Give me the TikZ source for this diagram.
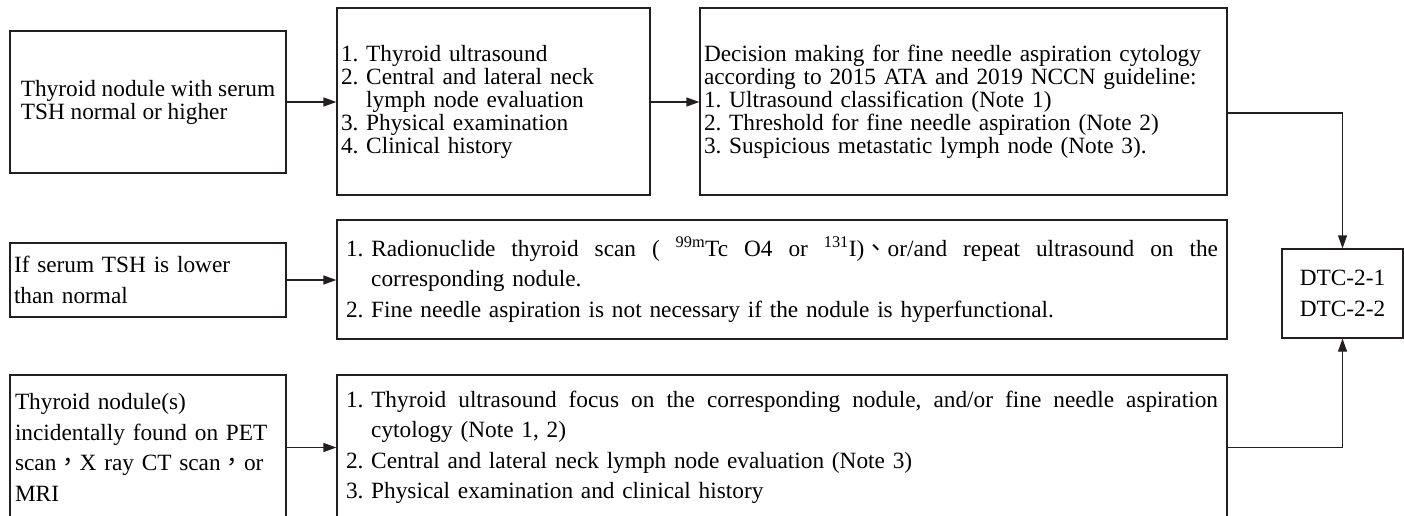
\documentclass[tikz,border=0pt]{standalone}
\usepackage{fontspec}
\setmainfont{Liberation Serif}
\newfontfamily\cjk{Noto Sans CJK TC}
\usetikzlibrary{arrows.meta}
\definecolor{ink}{HTML}{231F20}
\frenchspacing
\newcommand{\justline}[1]{\makebox[872pt][s]{\spaceskip=0pt\xspaceskip=0pt\relax #1}}
\tikzset{
  box/.style={draw=ink, line width=1.3pt, rectangle, align=left, inner ysep=0pt,
    font=\fontsize{23.3}{23}\selectfont},
  lowbox/.style={box, font=\fontsize{23.3}{30.5}\selectfont},
  conn/.style={draw=ink, line width=1.3pt, -{Triangle[length=13pt,width=9pt]}},
}
\begin{document}
\begin{tikzpicture}[x=1pt,y=-1pt]
\useasboundingbox (0,0) rectangle (1404,516);
\clip (0,0) rectangle (1404,516);
% top row
\node[box, minimum width=276pt, minimum height=142pt, inner xsep=0pt] (A) at (148,102)
  {Thyroid nodule with serum\\TSH normal or higher};
\node[box, minimum width=313pt, minimum height=187pt, inner xsep=4pt, text width=305pt] (B) at (493.5,101.5)
  {1. Thyroid ultrasound\\2. Central and lateral neck\\\phantom{2. }lymph node evaluation\\3. Physical examination\\4. Clinical history};
\node[box, minimum width=527pt, minimum height=187pt, inner xsep=4pt, text width=519pt] (C) at (963.5,101.5)
  {Decision making for fine needle aspiration cytology\\according to 2015 ATA and 2019 NCCN guideline:\\1. Ultrasound classification (Note 1)\\2. Threshold for fine needle aspiration (Note 2)\\3. Suspicious metastatic lymph node (Note 3).};
% middle row
\node[lowbox, minimum width=276pt, minimum height=74pt, inner xsep=4pt, text width=268pt] (E) at (148,280)
  {If serum TSH is lower\\than normal};
\node[lowbox, minimum width=890pt, minimum height=119pt, inner xsep=9pt, text width=872pt] (D) at (782,279.5)
  {\justline{1.\kern7.8pt Radionuclide thyroid scan ( \textsuperscript{99m}Tc O4 or \textsuperscript{131}I){\cjk 、}or/and repeat ultrasound on the}\\\phantom{1. }corresponding nodule.\\2. Fine needle aspiration is not necessary if the nodule is hyperfunctional.};
\node[lowbox, minimum width=121pt, minimum height=89pt, align=center] (F) at (1342.5,293.5)
  {DTC-2-1\\DTC-2-2};
% bottom row
\node[lowbox, minimum width=276pt, minimum height=145pt, inner xsep=5pt, text width=266pt] (G) at (148,447.5)
  {Thyroid nodule(s)\\incidentally found on PET\\scan{\cjk ，}X ray CT scan{\cjk ，}or\\MRI};
\node[lowbox, minimum width=890pt, minimum height=145pt, inner xsep=9pt, text width=872pt] (H) at (782,447.5)
  {\justline{1.\kern7.8pt Thyroid ultrasound focus on the corresponding nodule, and/or fine needle aspiration}\\\phantom{1. }cytology (Note 1, 2)\\2. Central and lateral neck lymph node evaluation (Note 3)\\3. Physical examination and clinical history};
% connectors
\draw[conn] (A.east) -- (A.east -| B.west);
\draw[conn] (B.east |- A.east) -- (A.east -| C.west);
\draw[conn] (E.east) -- (E.east -| D.west);
\draw[conn] (G.east) -- (G.east -| H.west);
\coordinate (cOut) at ([yshift=-11.5pt]C.east);
\draw[conn] (cOut) -| (F.north);
\draw[conn] (H.east) -| (F.south);
\end{tikzpicture}
\end{document}
